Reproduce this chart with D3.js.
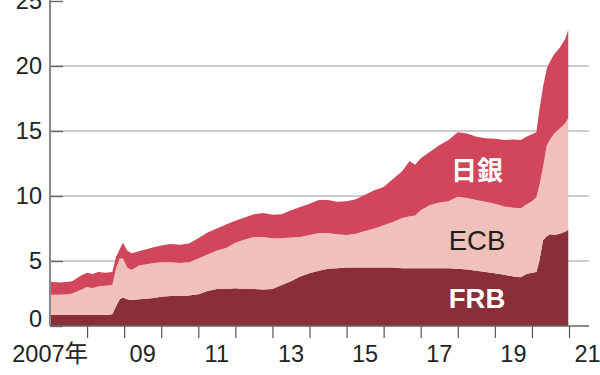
<!DOCTYPE html>
<html>
<head>
<meta charset="utf-8">
<script src="https://cdn.jsdelivr.net/npm/d3@7/dist/d3.min.js"></script>
<style>
    html, body { margin: 0; padding: 0; background: #fff; }
    svg { display: block; }
    .tick-label { font-family: "Liberation Sans", Arial, "Noto Sans CJK JP", sans-serif; font-size: 23.5px; fill: #222; }
</style>
</head>
<body>
<div id="chart"></div>
<script>
// decimal years, values in trillion dollars
var years = [
    2007.0, 2007.25, 2007.5, 2007.6, 2007.85, 2008.0, 2008.15, 2008.3, 2008.5, 2008.68,
    2008.78, 2008.88, 2008.97, 2009.08, 2009.2, 2009.4, 2009.6, 2009.8, 2010.0, 2010.25,
    2010.5, 2010.75, 2011.0, 2011.25, 2011.5, 2011.75, 2012.0, 2012.25, 2012.5, 2012.75,
    2013.0, 2013.25, 2013.5, 2013.75, 2014.0, 2014.25, 2014.5, 2014.75, 2015.0, 2015.25,
    2015.5, 2015.75, 2016.0, 2016.25, 2016.5, 2016.7, 2016.85, 2017.0, 2017.25, 2017.5,
    2017.75, 2018.0, 2018.25, 2018.5, 2018.75, 2019.0, 2019.25, 2019.5, 2019.7, 2019.85,
    2020.0, 2020.12, 2020.2, 2020.3, 2020.4, 2020.5, 2020.6, 2020.75, 2020.9, 2020.98
];
var frb = [
    0.85, 0.85, 0.85, 0.85, 0.85, 0.85, 0.85, 0.85, 0.85, 0.9,
    1.5, 2.05, 2.2, 2.05, 2.0, 2.05, 2.1, 2.15, 2.25, 2.3,
    2.3, 2.35, 2.45, 2.7, 2.85, 2.85, 2.9, 2.85, 2.85, 2.8,
    2.85, 3.15, 3.45, 3.8, 4.05, 4.25, 4.4, 4.45, 4.5, 4.5,
    4.5, 4.5, 4.5, 4.5, 4.45, 4.45, 4.45, 4.45, 4.45, 4.45,
    4.45, 4.4, 4.35, 4.25, 4.15, 4.05, 3.95, 3.8, 3.75, 4.0,
    4.1, 4.15, 5.0, 6.6, 6.9, 7.05, 7.0, 7.1, 7.25, 7.4
];
var ecb = [
    1.55, 1.55, 1.6, 1.65, 1.95, 2.15, 2.05, 2.2, 2.25, 2.25,
    2.9, 3.15, 3.0, 2.45, 2.3, 2.6, 2.65, 2.7, 2.65, 2.6,
    2.55, 2.55, 2.75, 2.8, 2.95, 3.15, 3.5, 3.8, 4.0, 4.05,
    3.9, 3.6, 3.35, 3.05, 2.95, 2.9, 2.75, 2.6, 2.5, 2.6,
    2.8, 3.0, 3.25, 3.5, 3.85, 4.0, 4.05, 4.45, 4.85, 5.05,
    5.15, 5.55, 5.5, 5.45, 5.4, 5.35, 5.25, 5.3, 5.3, 5.35,
    5.5, 5.75, 5.8, 5.6, 7.0, 7.35, 7.8, 8.1, 8.35, 8.6
];
var boj = [
    1.0, 0.95, 0.95, 0.95, 1.1, 1.1, 1.1, 1.1, 1.0, 1.0,
    0.9, 0.7, 1.2, 1.3, 1.3, 1.1, 1.15, 1.2, 1.3, 1.4,
    1.4, 1.45, 1.55, 1.7, 1.7, 1.8, 1.7, 1.7, 1.75, 1.85,
    1.8, 1.85, 2.1, 2.3, 2.4, 2.55, 2.55, 2.5, 2.6, 2.65,
    2.8, 2.95, 2.95, 3.3, 3.6, 4.25, 3.9, 4.0, 4.1, 4.4,
    4.7, 4.95, 4.95, 4.85, 4.9, 5.0, 5.1, 5.25, 5.25, 5.2,
    5.15, 5.0, 5.8, 6.2, 5.9, 6.0, 6.1, 6.2, 6.5, 6.8
];

var seriesKeys = ['frb', 'ecb', 'boj'];
var seriesNames = ['FRB', 'ECB', '日銀'];
var seriesColors = ['#8a2e38', '#efc1ba', '#d1465b'];
var yTicks = [0, 5, 10, 15, 20, 25];
var gridTicks = [5, 10, 15, 20];
var xTicks = d3.range(2008, 2022);
var xLabelYears = [2007, 2009, 2011, 2013, 2015, 2017, 2019, 2021];

class StackedAreaChart {

    constructor(config) {
        this.config = config;
        this._initialized = false;
    }

    draw(data) {
        if (!this._initialized) {
            this._initialize();
        }
        var x = this.x, y = this.y;

        var stack = d3.stack().keys(seriesKeys);
        var layers = stack(data);

        var area = d3.area()
            .x(function (d) { return x(d.data.year); })
            .y0(function (d) { return y(d[0]); })
            .y1(function (d) { return y(d[1]); });

        this.plot
            .selectAll('path.layer')
            .data(layers)
            .enter()
            .append('path')
            .attr('class', 'layer')
            .attr('fill', function (d, i) { return seriesColors[i]; })
            .attr('d', area);

        this._drawAxes();
        this._drawLabels();
    }

    _initialize() {
        var c = this.config;
        this.x = d3.scaleLinear().domain([2007, 2021]).range([c.left, c.right]);
        this.y = d3.scaleLinear().domain([0, 25]).range([c.bottom, c.top]);

        this.svg = d3
            .select(c.selector)
            .append('svg')
            .attr('width', c.width)
            .attr('height', c.height);

        //gridlines sit behind the areas
        this.svg
            .append('g')
            .attr('class', 'grid')
            .selectAll('line')
            .data(gridTicks)
            .enter()
            .append('line')
            .attr('x1', c.left)
            .attr('x2', c.gridEnd)
            .attr('y1', d => this.y(d))
            .attr('y2', d => this.y(d))
            .attr('stroke', '#9a9a9a')
            .attr('stroke-width', 1.2);

        this.plot = this.svg.append('g').attr('class', 'plot');
        this._initialized = true;
    }

    _drawAxes() {
        var c = this.config, x = this.x, y = this.y;

        var yAxis = d3.axisRight(y)
            .tickValues(yTicks)
            .tickSize(13)
            .tickFormat('');
        this.svg
            .append('g')
            .attr('class', 'y axis')
            .attr('transform', 'translate(' + c.left + ',0)')
            .call(yAxis)
            .call(g => g.select('.domain').remove())
            .call(g => g.selectAll('line').attr('stroke', '#666').attr('stroke-width', 1.4));

        this.svg
            .append('line')
            .attr('x1', c.left)
            .attr('x2', c.left)
            .attr('y1', 0)
            .attr('y2', c.bottom)
            .attr('stroke', '#888')
            .attr('stroke-width', 2);

        this.svg
            .append('g')
            .selectAll('text')
            .data(yTicks)
            .enter()
            .append('text')
            .attr('class', 'tick-label')
            .attr('text-anchor', 'end')
            .attr('x', c.left - 8)
            .attr('y', d => y(d) + (d === 0 ? -7 : 0))
            .attr('dy', '0.36em')
            .text(d => d);

        // x axis baseline and year ticks
        var xAxis = d3.axisBottom(x)
            .tickValues(xTicks)
            .tickSize(12)
            .tickFormat('');
        this.svg
            .append('g')
            .attr('class', 'x axis')
            .attr('transform', 'translate(0,' + c.bottom + ')')
            .call(xAxis)
            .call(g => g.select('.domain').remove())
            .call(g => g.selectAll('line').attr('stroke', '#555').attr('stroke-width', 1.2));

        this.svg
            .append('line')
            .attr('x1', c.left)
            .attr('x2', c.gridEnd)
            .attr('y1', c.bottom)
            .attr('y2', c.bottom)
            .attr('stroke', '#666')
            .attr('stroke-width', 1.4);

        this.svg
            .append('g')
            .selectAll('text')
            .data(xLabelYears)
            .enter()
            .append('text')
            .attr('class', 'tick-label')
            .attr('text-anchor', d => d === 2007 ? 'end' : 'middle')
            .attr('x', d => d === 2007 ? x(2008) + 1 : x(d + 0.5))
            .attr('y', c.bottom + 36)
            .text(d => d === 2007 ? '2007年' : d3.format('02')(d % 100));
    }

    _drawLabels() {
        var c = this.config;
        var labels = [
            { text: seriesNames[2], y: 180, fill: '#fff', weight: 'bold', size: 26, font: '"Noto Sans CJK JP", sans-serif' },
            { text: seriesNames[1], y: 250, fill: '#1e1e1e', weight: 'normal', size: 27.5, font: '"Liberation Sans", Arial, sans-serif' },
            { text: seriesNames[0], y: 308, fill: '#fff', weight: 'bold', size: 27.5, font: '"Liberation Sans", Arial, sans-serif' }
        ];
        this.svg
            .append('g')
            .selectAll('text')
            .data(labels)
            .enter()
            .append('text')
            .attr('text-anchor', 'middle')
            .attr('x', c.labelX)
            .attr('y', d => d.y)
            .attr('fill', d => d.fill)
            .attr('font-weight', d => d.weight)
            .attr('font-size', d => d.size + 'px')
            .attr('font-family', d => d.font)
            .text(d => d.text);
    }
}

var data = years.map(function (yr, i) {
    return { year: yr, frb: frb[i], ecb: ecb[i], boj: boj[i] };
});

var chart = new StackedAreaChart({
    selector: '#chart',
    width: 600,
    height: 375,
    left: 50,
    right: 569,
    top: 1,
    bottom: 326,
    gridEnd: 589,
    labelX: 477
});
chart.draw(data);
</script>
</body>
</html>
